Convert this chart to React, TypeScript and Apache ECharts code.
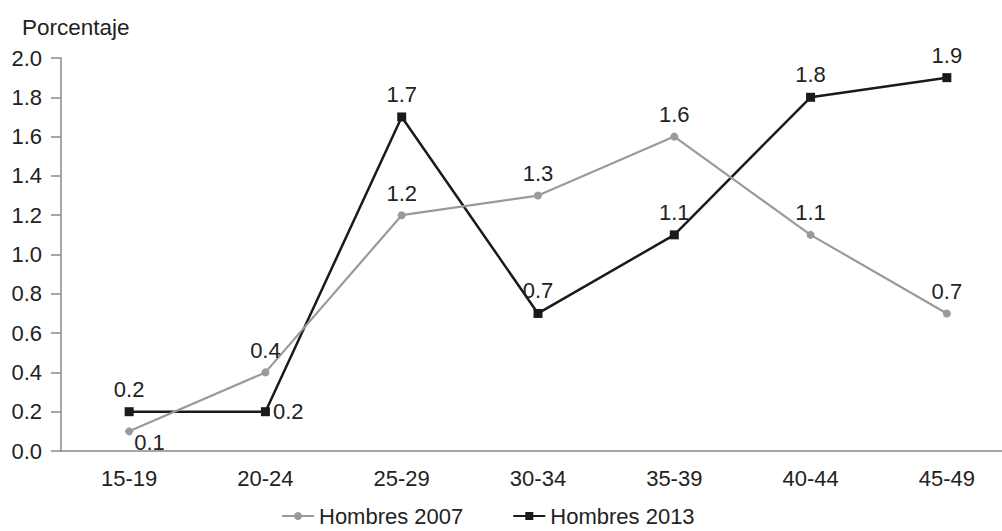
import React, { useEffect, useRef } from "react";
import * as echarts from "echarts";

const categories = ["15-19", "20-24", "25-29", "30-34", "35-39", "40-44", "45-49"];
const hombres2007 = [0.1, 0.4, 1.2, 1.3, 1.6, 1.1, 0.7];
const hombres2013 = [0.2, 0.2, 1.7, 0.7, 1.1, 1.8, 1.9];
const yTicks = { min: 0, max: 2, interval: 0.2 };

const FONT = "'Liberation Sans', Arial, sans-serif";
const TXT = "#222222";
const GRAY = "#9a9a9a";
const BLACK = "#1a1a1a";

export default function App() {
  const ref = useRef<HTMLDivElement>(null);
  useEffect(() => {
    if (!ref.current) return;
    const chart = echarts.init(ref.current, undefined, { renderer: "svg" });
    const lbl = { fontFamily: FONT, fontSize: 22, color: TXT };
    chart.setOption({
      animation: false,
      backgroundColor: "#ffffff",
      textStyle: { fontFamily: FONT },
      graphic: [
        {
          type: "text",
          x: 22,
          y: 27,
          style: { text: "Porcentaje", font: `22.5px ${FONT}`, fill: TXT, verticalAlign: "middle" },
        },
      ],
      grid: { left: 61, top: 58, width: 954, height: 393, containLabel: false },
      legend: {
        left: 276,
        top: 500,
        itemWidth: 32,
        itemHeight: 10,
        itemGap: 49,
        textStyle: { ...lbl, padding: [0, 0, 0, 0] },
        data: ["Hombres 2007", "Hombres 2013"],
      },
      xAxis: {
        type: "category",
        data: categories,
        boundaryGap: true,
        axisLine: { lineStyle: { color: "#8a8a8a", width: 1.5 } },
        axisTick: { show: false },
        axisLabel: { ...lbl, margin: 16 },
      },
      yAxis: {
        type: "value",
        min: yTicks.min,
        max: yTicks.max,
        interval: yTicks.interval,
        splitLine: { show: false },
        axisLine: { show: true, lineStyle: { color: "#8a8a8a", width: 1.5 } },
        axisTick: { show: true, length: 10, lineStyle: { color: "#8a8a8a", width: 1.5 } },
        axisLabel: { ...lbl, margin: 19, formatter: (v: number) => v.toFixed(1) },
      },
      series: [
        {
          name: "Hombres 2013",
          type: "line",
          z: 2,
          data: hombres2013.map((v, i) => {
            if (i === 1) {
              return { value: v, label: { position: "right", distance: 3 } };
            }
            return v;
          }),
          symbol: "rect",
          symbolSize: 9,
          color: BLACK,
          itemStyle: { color: BLACK },
          lineStyle: { color: BLACK, width: 2.5 },
          label: { show: true, position: "top", distance: 7, ...lbl, formatter: (p: any) => Number(p.value).toFixed(1) },
        },
        {
          name: "Hombres 2007",
          type: "line",
          z: 3,
          data: hombres2007.map((v, i) => {
            if (i === 0) {
              return { value: v, label: { position: "right", distance: 1, offset: [0, 11] } };
            }
            return v;
          }),
          symbol: "circle",
          symbolSize: 8,
          color: GRAY,
          itemStyle: { color: GRAY },
          lineStyle: { color: GRAY, width: 2.2 },
          label: { show: true, position: "top", distance: 7, ...lbl, formatter: (p: any) => Number(p.value).toFixed(1) },
        },
      ],
    });
    return () => chart.dispose();
  }, []);
  return (
    <div
      ref={ref}
      style={{ position: "fixed", left: 0, top: 0, width: 1030, height: 531, background: "#fff" }}
    />
  );
}
